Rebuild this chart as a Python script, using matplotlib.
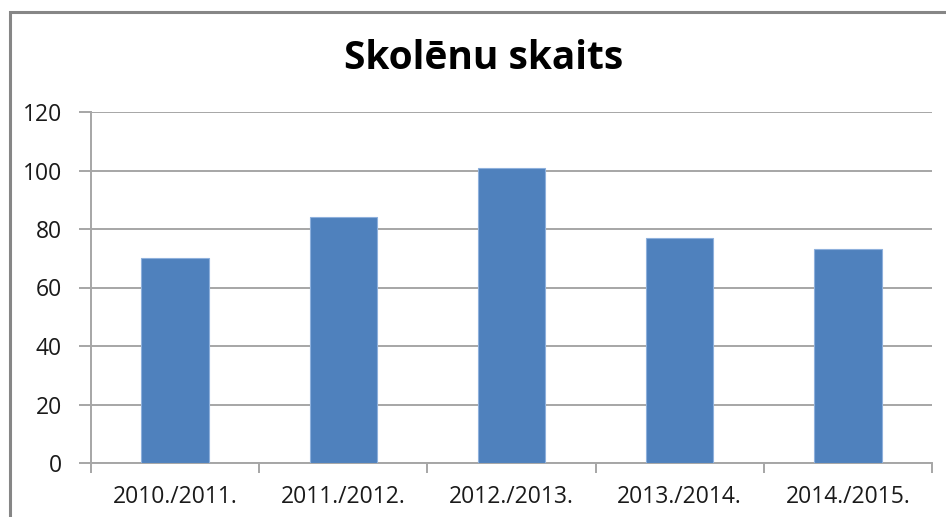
import matplotlib
matplotlib.use("Agg")
import matplotlib.pyplot as plt
from matplotlib.patches import Rectangle

categories = ["2010./2011.", "2011./2012.", "2012./2013.", "2013./2014.", "2014./2015."]
values = [70, 84, 101, 77, 73]
yticks = [0, 20, 40, 60, 80, 100, 120]
title = "Skolēnu skaits"

W, H = 946, 517
fig = plt.figure(figsize=(W / 100, H / 100), dpi=100)
fig.patch.set_facecolor("white")

# outer frame (partially cropped at right/bottom)
fig.patches.append(Rectangle((10 / W, -0.2), 1.5, 1.2 - 12 / H,
                             transform=fig.transFigure, fill=False,
                             edgecolor="#868686", linewidth=2.2, clip_on=False))

ax = fig.add_axes([91 / W, 1 - 463 / H, (932 - 91) / W, (463 - 112) / H])
x = list(range(len(categories)))
ax.bar(x, values, width=0.4, color="#4F81BD", edgecolor="#8EB0DC", linewidth=0.8, zorder=3)
ax.set_xlim(-0.5, len(categories) - 0.5)
ax.set_ylim(0, 120)
ax.set_yticks(yticks)
ax.set_yticklabels([str(t) for t in yticks])
ax.yaxis.grid(True, color="#A6A6A6", linewidth=1.4, zorder=0)
ax.set_axisbelow(True)
for s in ["top", "right"]:
    ax.spines[s].set_visible(False)
ax.spines["left"].set_color("#A6A6A6")
ax.spines["left"].set_linewidth(1.4)
ax.spines["bottom"].set_color("#A6A6A6")
ax.spines["bottom"].set_linewidth(1.4)

ax.set_xticks([i + 0.5 for i in range(-1, len(categories))], minor=False)
ax.set_xticklabels([""] * (len(categories) + 1))
ax.set_xticks(x, minor=True)
ax.set_xticklabels(categories, minor=True)
ax.tick_params(axis="x", which="major", length=7, width=1.4, color="#A6A6A6")
ax.tick_params(axis="x", which="minor", length=0, pad=16, labelsize=16.5, labelcolor="#1a1a1a")
ax.tick_params(axis="y", length=9, width=1.4, color="#A6A6A6", pad=12, labelsize=16.5, labelcolor="#1a1a1a")
for lbl in ax.get_xticklabels(minor=True) + ax.get_yticklabels():
    lbl.set_fontfamily("Open Sans")

fig.text(484 / W, 1 - 58 / H, title, ha="center", va="center",
         fontsize=28, fontweight="bold", fontfamily="Open Sans", color="#000000")

fig.savefig("out.png", dpi=100, facecolor="white")
